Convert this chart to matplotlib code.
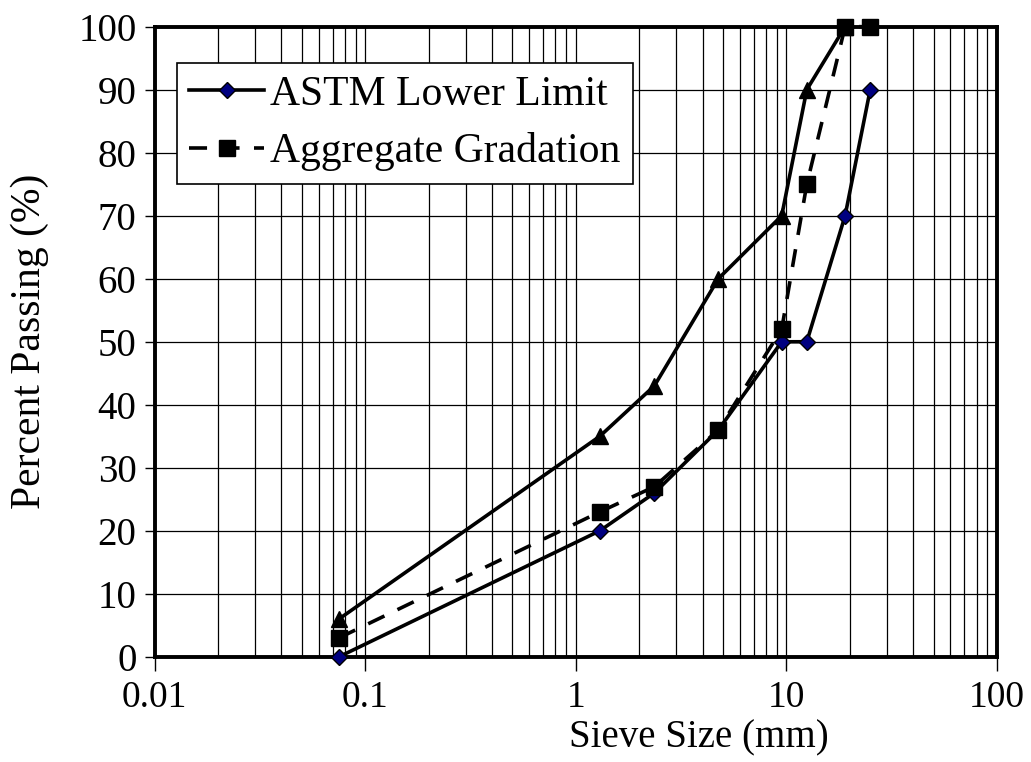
import numpy as np
import matplotlib.pyplot as plt
from matplotlib.ticker import FixedLocator, FixedFormatter, LogLocator, NullFormatter

# sieve sizes (mm) and percent passing
lower_size = [0.075, 1.3, 2.36, 4.75, 9.5, 12.5, 19, 25]
lower_pass = [0, 20, 26, 36, 50, 50, 70, 90]

upper_size = [0.075, 1.3, 2.36, 4.75, 9.5, 12.5, 19]
upper_pass = [6, 35, 43, 60, 70, 90, 100]

agg_size = [0.075, 1.3, 2.36, 4.75, 9.5, 12.5, 19, 25]
agg_pass = [3, 23, 27, 36, 52, 75, 100, 100]

x_ticks = [0.01, 0.1, 1, 10, 100]
x_labels = ["0.01", "0.1", "1", "10", "100"]

plt.rcParams["font.family"] = ["Liberation Serif", "DejaVu Serif"]

fig = plt.figure(figsize=(10.31, 7.62), dpi=100)
ax = fig.add_axes([0.150, 0.138, 0.817, 0.827])

ax.plot(upper_size, upper_pass, color="black", lw=2.6, marker="^", ms=11,
        mfc="black", mec="black", clip_on=False, zorder=3)
ax.plot(lower_size, lower_pass, color="black", lw=2.6, marker="D", ms=8,
        mfc="#000080", mec="black", mew=1, clip_on=False, zorder=4,
        label="ASTM Lower Limit")
ax.plot(agg_size, agg_pass, color="black", lw=2.6, ls=(0, (5, 4)), marker="s", ms=12,
        mfc="black", mec="black", clip_on=False, zorder=5,
        label="Aggregate Gradation")

ax.set_xscale("log")
ax.set_xlim(0.01, 100)
ax.set_ylim(0, 100)
ax.xaxis.set_major_locator(FixedLocator(x_ticks))
ax.xaxis.set_major_formatter(FixedFormatter(x_labels))
ax.xaxis.set_minor_locator(LogLocator(base=10, subs=np.arange(2, 10)))
ax.xaxis.set_minor_formatter(NullFormatter())
ax.set_yticks(np.arange(0, 101, 10))

ax.grid(True, which="major", color="black", lw=0.9)
ax.grid(True, which="minor", axis="x", color="black", lw=0.9)
ax.set_axisbelow(True)

ax.tick_params(axis="x", which="major", direction="out", length=10, width=1,
               labelsize=27, pad=7)
ax.tick_params(axis="x", which="minor", length=0)
ax.tick_params(axis="y", direction="out", length=7, width=1, labelsize=28, pad=6)

for s in ax.spines.values():
    s.set_linewidth(2.8)
    s.set_color("black")

ax.set_xlabel("Sieve Size (mm)", fontsize=28)
ax.xaxis.set_label_coords(0.646, -0.1)
ax.set_ylabel("Percent Passing (%)", fontsize=30)
ax.yaxis.set_label_coords(-0.125, 0.5)

leg = ax.legend(loc="upper left", bbox_to_anchor=(0.026, 0.943), fontsize=30,
                frameon=True, fancybox=False, edgecolor="black",
                handlelength=1.8, borderpad=0.3, labelspacing=0.45,
                handletextpad=0.15, borderaxespad=0)
leg.get_frame().set_linewidth(1.2)
leg.get_frame().set_alpha(1)

fig.savefig("out.png", dpi=100)
